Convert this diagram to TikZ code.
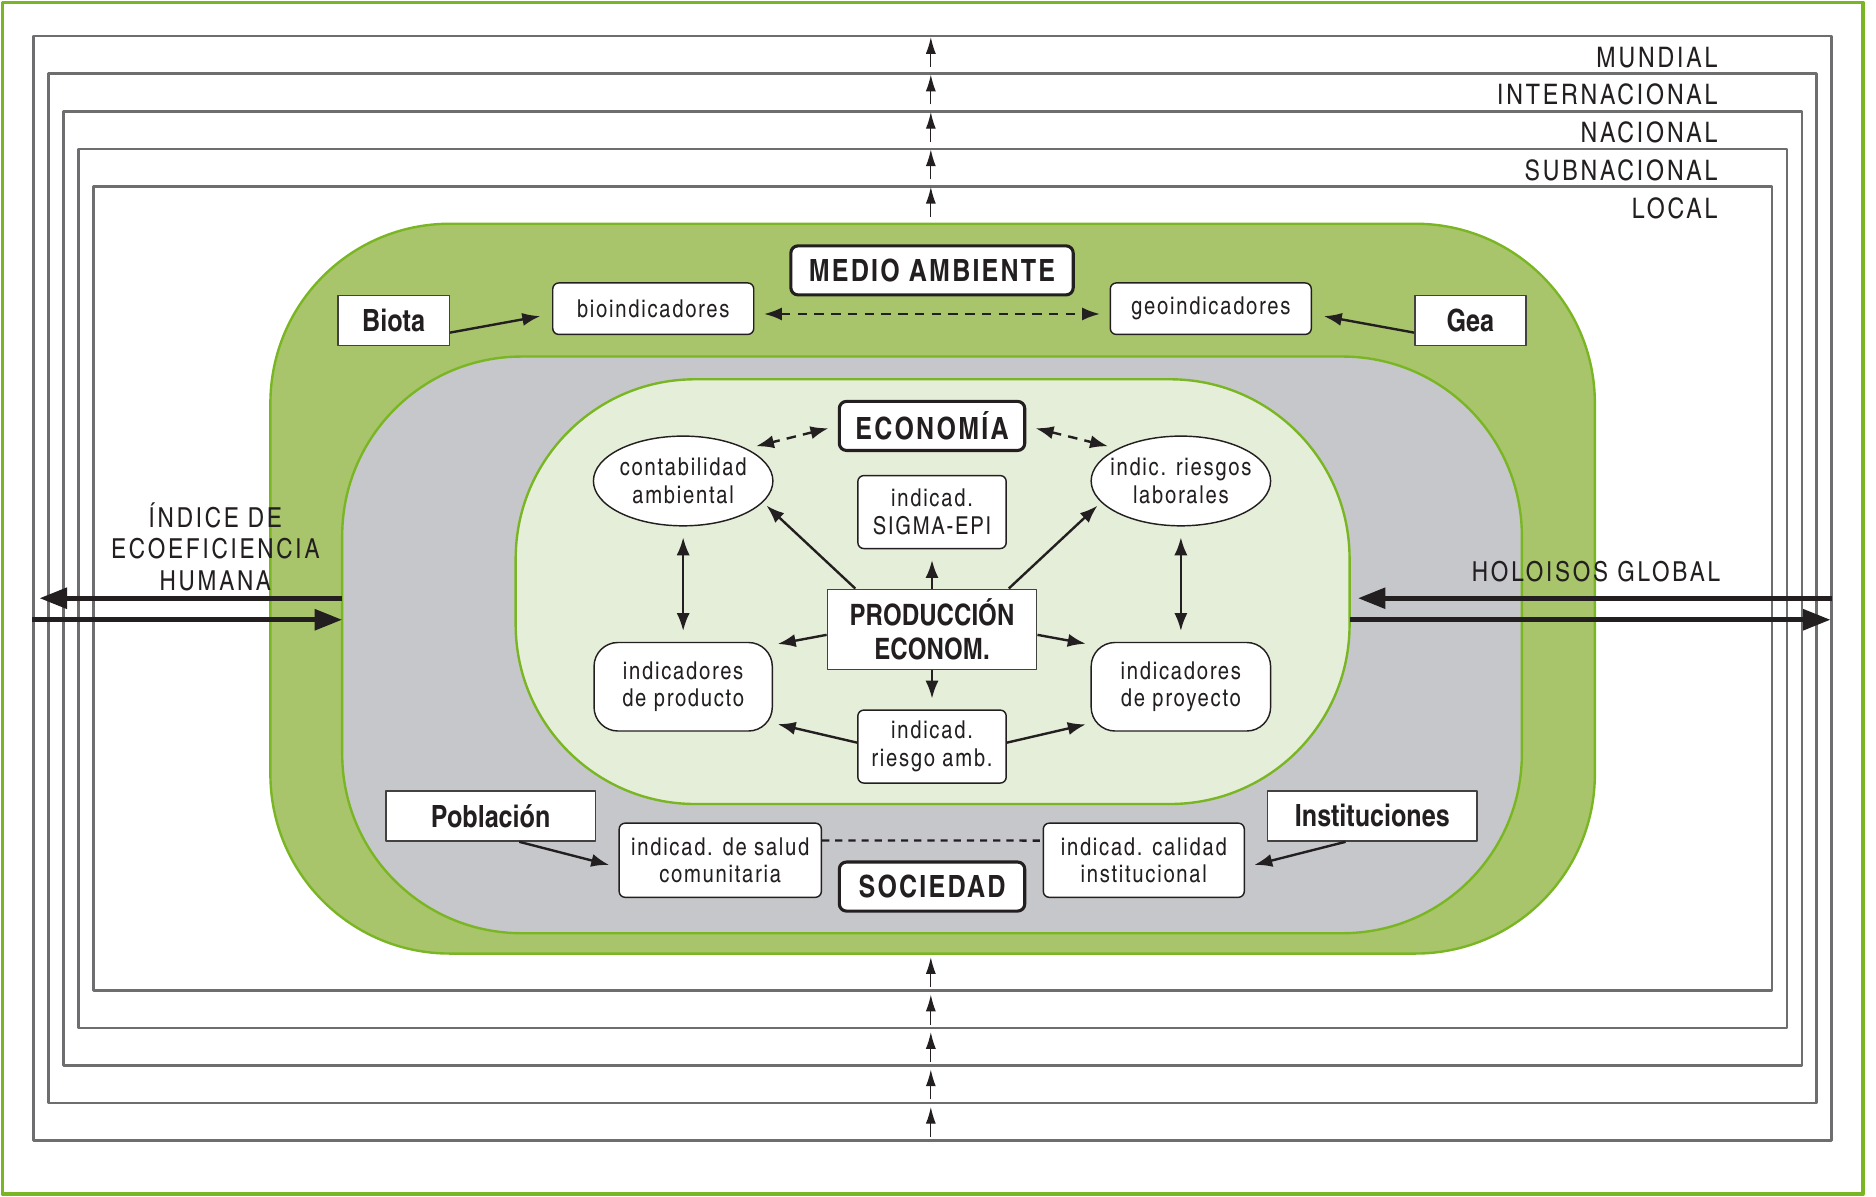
\documentclass[tikz,border=0pt]{standalone}
\usepackage{fontspec}
\newfontfamily\bodyfont{texgyreheroscn-regular.otf}[LetterSpace=7]
\newfontfamily\capsfont{texgyreheroscn-regular.otf}[LetterSpace=10]
\newfontfamily\headfont{texgyreheroscn-bold.otf}[LetterSpace=7]
\newfontfamily\namefont{texgyreheroscn-bold.otf}
\usetikzlibrary{arrows.meta,shapes.geometric}
\definecolor{framegreen}{RGB}{122,182,36}
\definecolor{envgreen}{RGB}{168,197,107}
\definecolor{socgray}{RGB}{198,199,202}
\definecolor{ecogreen}{RGB}{229,238,216}
\definecolor{levelgray}{RGB}{110,110,112}
\definecolor{ink}{RGB}{35,31,32}

\begin{document}
\begin{tikzpicture}[x=0.5pt,y=-0.5pt,line join=round,
    zone/.style={draw=framegreen,line width=1pt,rounded corners=75pt},
    levelframe/.style={draw=levelgray,line width=1.1pt},
    levelarrow/.style={ink,line width=0.55pt,>={Latex[length=7pt,width=4.2pt]},->},
    bigarrow/.style={ink,line width=2pt,>={Triangle[length=11.5pt,width=8.5pt]},->},
    levellabel/.style={anchor=east,inner sep=0pt,text=ink,font=\capsfont\fontsize{11.8}{13.25}\selectfont},
    namebox/.style={draw=ink!85,line width=0.6pt,fill=white,inner sep=0pt,minimum height=21pt,
      text=ink,font=\namefont\fontsize{12.8}{14}\selectfont},
    indbox/.style={draw=ink,line width=0.6pt,fill=white,rounded corners=2.5pt,inner sep=0pt,
      align=center,text=ink,font=\bodyfont\fontsize{10.3}{11.5}\selectfont},
    indellipse/.style={ellipse,draw=ink,line width=0.6pt,fill=white,inner xsep=-3pt,inner ysep=0pt,
      minimum width=75pt,minimum height=37.5pt,align=center,text=ink,
      font=\bodyfont\fontsize{10.3}{11.5}\selectfont},
    headbox/.style={draw=ink,line width=1.3pt,fill=white,rounded corners=3pt,inner sep=0pt,
      minimum width=77.5pt,minimum height=20.5pt,text=ink,font=\headfont\fontsize{12.8}{14}\selectfont},
    link/.style={ink,line width=1pt,>={Latex[length=7.5pt,width=5.5pt]},->},
    duallink/.style={link,<->},
    dashlink/.style={duallink,dash pattern=on 4pt off 3pt}]
  \useasboundingbox (0,0) rectangle (1568,1000);
  \draw[framegreen,line width=1.5pt] (2,2) rectangle (1557,998);

  \foreach \i in {0,...,4}
    \draw[levelframe] ({28+12.6*\i},{30+31.5*\i}) rectangle ({1531-12.5*\i},{953-31.25*\i});
  \foreach \i in {0,...,4}{
    \draw[levelarrow] (778,{56+31.3*\i}) -- (778,{31+31.3*\i});
    \draw[levelarrow] (778,{825+31.3*\i}) -- (778,{800+31.3*\i});
  }
  \foreach \lab/\y [count=\k] in {MUNDIAL/48,INTERNACIONAL/79,NACIONAL/111,SUBNACIONAL/142,LOCAL/174}
    \node[levellabel] (level\k) at (1436,\y) {\lab};

  \draw[zone,fill=envgreen] (226,187) rectangle (1333,797);
  \draw[zone,fill=socgray] (286,298) rectangle (1272,780);
  \draw[zone,fill=ecogreen] (431,317) rectangle (1128,672);

  \node[headbox,minimum width=118pt] (medio) at (779,226) {MEDIO AMBIENTE};
  \node[namebox,minimum width=46.5pt] (biota) at (329,268) {Biota};
  \node[indbox,minimum width=84pt,minimum height=21.5pt] (bioind) at (546,258) {bioindicadores};
  \node[indbox,minimum width=84pt,minimum height=21.5pt] (geoind) at (1012,258) {geoindicadores};
  \node[namebox,minimum width=46.5pt] (gea) at (1229,268) {Gea};

  \node[headbox] (economia) at (779,356) {ECONOMÍA};
  \node[indellipse] (contab) at (571,402) {contabilidad\\ambiental};
  \node[indellipse] (riesgolab) at (987,402) {indic. riesgos\\laborales};
  \node[indbox,minimum width=62pt,minimum height=30.5pt] (sigma) at (779,428) {indicad.\\SIGMA-EPI};
  \node[namebox,minimum width=87.5pt,minimum height=33.5pt,align=center,
    font=\namefont\fontsize{12.3}{14}\selectfont] (prod) at (779,526) {PRODUCCIÓN\\ECONOM.};
  \node[indbox,rounded corners=10pt,minimum width=74.5pt,minimum height=37pt] (indprod) at (571,574) {indicadores\\de producto};
  \node[indbox,rounded corners=10pt,minimum width=75pt,minimum height=37pt] (indproy) at (987,574) {indicadores\\de proyecto};
  \node[indbox,minimum width=62pt,minimum height=30.5pt] (riesgoamb) at (779,624) {indicad.\\riesgo amb.};

  \node[namebox,minimum width=87.5pt] (poblacion) at (410,682) {Población};
  \node[namebox,minimum width=87.5pt] (instit) at (1147,682) {Instituciones};
  \node[indbox,minimum width=84.5pt,minimum height=31pt] (salud) at (602,719) {indicad. de salud\\comunitaria};
  \node[indbox,minimum width=84pt,minimum height=31pt] (calidad) at (956,719) {indicad. calidad\\institucional};
  \node[headbox] (sociedad) at (779,741) {SOCIEDAD};

  \node[align=center,text=ink,font=\capsfont\fontsize{11.5}{13.25}\selectfont] (ecoef) at (180,457) {ÍNDICE DE\\ECOEFICIENCIA\\HUMANA};
  \node[text=ink,font=\capsfont\fontsize{11.5}{13.25}\selectfont] (holo) at (1334,478) {HOLOISOS GLOBAL};

  \coordinate (ecoefin) at (286,500);
  \coordinate (ecoefout) at (33,500);
  \coordinate (ecoefstart) at (27,518);
  \coordinate (ecoefend) at (286,518);
  \coordinate (holoin) at (1531,500);
  \coordinate (holoout) at (1135,500);
  \coordinate (holostart) at (1128,518);
  \coordinate (holoend) at (1530,518);
  \draw[bigarrow] (ecoefin) -- (ecoefout);
  \draw[bigarrow] (ecoefstart) -- (ecoefend);
  \draw[bigarrow] (holoin) -- (holoout);
  \draw[bigarrow] (holostart) -- (holoend);

  \draw[link,shorten >=5pt] (biota.-12) -- (bioind.183);
  \draw[link,shorten >=5pt] (gea.192) -- (geoind.-3);
  \draw[dashlink,shorten <=4pt,shorten >=4pt] (bioind.-3) -- (geoind.183);
  \draw[dashlink,shorten <=4pt,shorten >=4pt] (economia.west) -- (contab.27);
  \draw[dashlink,shorten <=4pt,shorten >=4pt] (economia.east) -- (riesgolab.153);
  \draw[link,shorten >=2pt] (prod.152) -- (contab.-15);
  \draw[link,shorten >=2pt] (prod.28) -- (riesgolab.195);
  \draw[link,shorten >=4.5pt] (prod.north) -- (sigma.south);
  \draw[link,shorten >=2pt] (prod.183) -- (indprod.25);
  \draw[link,shorten >=2pt] (prod.-3) -- (indproy.155);
  \draw[link,shorten >=4.5pt] (prod.south) -- (riesgoamb.north);
  \draw[link,shorten >=2pt] (riesgoamb.177) -- (indprod.-22);
  \draw[link,shorten >=2pt] (riesgoamb.3) -- (indproy.202);
  \draw[duallink,shorten <=4.5pt,shorten >=4.5pt] (contab.south) -- (indprod.north);
  \draw[duallink,shorten <=4.5pt,shorten >=4.5pt] (riesgolab.south) -- (indproy.north);
  \draw[link,shorten >=4pt] (poblacion.-42) -- (salud.184);
  \draw[link,shorten >=4pt] (instit.-136) -- (calidad.-4);
  \draw[ink,line width=1pt,dash pattern=on 3pt off 2.5pt] (salud.11) -- (calidad.169);
\end{tikzpicture}
\end{document}
